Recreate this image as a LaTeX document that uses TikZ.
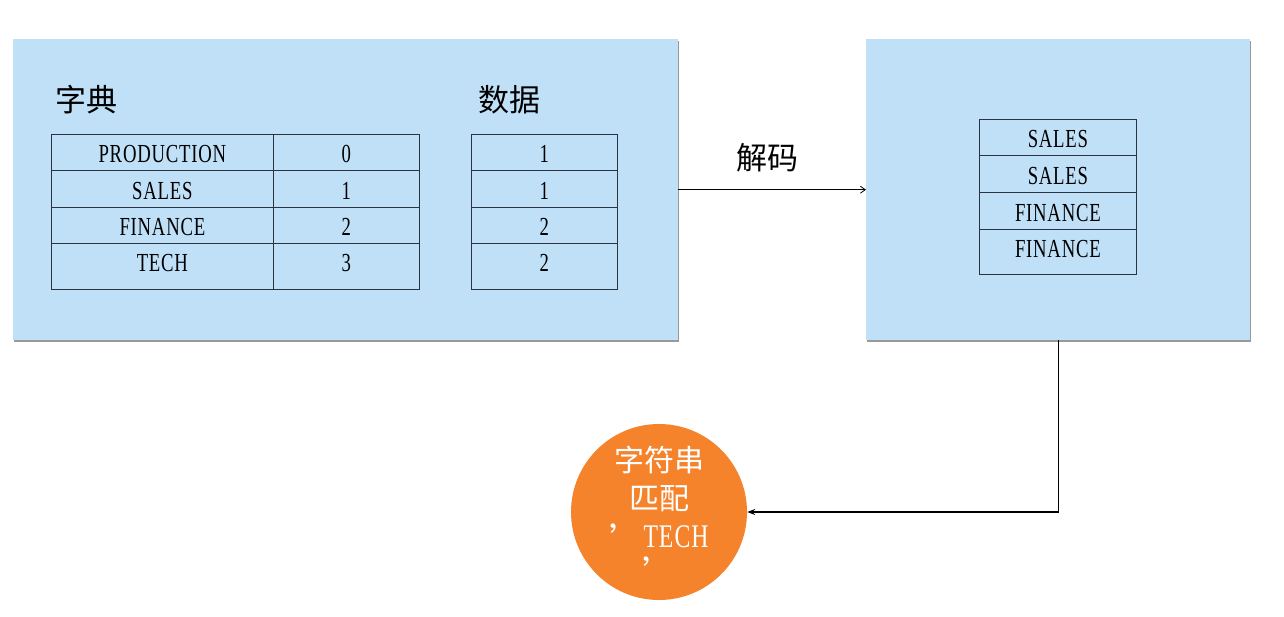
\documentclass[tikz,border=0pt]{standalone}
\usepackage{fontspec}
\setmainfont{Liberation Serif}
\newfontfamily\condfont[FakeStretch=0.72,LetterSpace=3]{Liberation Serif}
\newfontfamily\cjk{Noto Sans CJK SC}
\usetikzlibrary{arrows.meta,shadows}
\definecolor{panelblue}{HTML}{C0E0F8}
\definecolor{circorange}{HTML}{F5832C}
\definecolor{gridline}{HTML}{2A3440}
\begin{document}
\begin{tikzpicture}[x=1pt,y=-1pt,
  panel/.style={fill=panelblue, draw=none, inner sep=0pt, anchor=north west,
    drop shadow={shadow xshift=0.6pt, shadow yshift=-2pt, fill=gray!80, opacity=1}},
  cell/.style={draw=gridline, line width=0.8pt, inner sep=0pt, anchor=north west,
    text height=21pt, text depth=0pt,
    font=\condfont\fontsize{26}{26}\selectfont},
  lastrow/.style={text depth=10pt},
  title/.style={font=\cjk\fontsize{31}{31}\selectfont},
  conn/.style={line width=0.8pt}
]
\useasboundingbox (0,0) rectangle (1284,616);
% panels
\node[panel, minimum width=665pt, minimum height=301pt] (L) at (13,39) {};
\node[panel, minimum width=384pt, minimum height=301pt] (R) at (866,39) {};
% titles
\node[title] (dict) at (86,100) {字典};
\node[title] (data) at (509,100) {数据};
% dictionary table
\node[cell, minimum width=222pt, minimum height=36pt] (d1a) at (51,134) {PRODUCTION};
\node[cell, minimum width=146pt, minimum height=36pt] (d1b) at (273,134) {0};
\node[cell, minimum width=222pt, minimum height=37pt] (d2a) at (51,170) {SALES};
\node[cell, minimum width=146pt, minimum height=37pt] (d2b) at (273,170) {1};
\node[cell, minimum width=222pt, minimum height=36pt] (d3a) at (51,207) {FINANCE};
\node[cell, minimum width=146pt, minimum height=36pt] (d3b) at (273,207) {2};
\node[cell, lastrow, minimum width=222pt, minimum height=46pt] (d4a) at (51,243) {TECH};
\node[cell, lastrow, minimum width=146pt, minimum height=46pt] (d4b) at (273,243) {3};
% data table
\node[cell, minimum width=146pt, minimum height=36pt] (v1) at (471,134) {1};
\node[cell, minimum width=146pt, minimum height=37pt] (v2) at (471,170) {1};
\node[cell, minimum width=146pt, minimum height=36pt] (v3) at (471,207) {2};
\node[cell, lastrow, minimum width=146pt, minimum height=46pt] (v4) at (471,243) {2};
% decoded table
\node[cell, minimum width=157pt, minimum height=36pt] (r1) at (979,119) {SALES};
\node[cell, minimum width=157pt, minimum height=37pt] (r2) at (979,155) {SALES};
\node[cell, minimum width=157pt, minimum height=37pt] (r3) at (979,192) {FINANCE};
\node[cell, lastrow, minimum width=157pt, minimum height=45pt] (r4) at (979,229) {FINANCE};
% decode arrow
\draw[conn, -{Straight Barb[length=5pt,width=7pt]}] (L.east) -- (R.west);
\node[title] (decode) at (767,158) {解码};
% circle
\node[circle, fill=circorange, minimum size=176pt, inner sep=0pt] (C) at (659,512) {};
\node[align=center, text=white, font=\cjk\fontsize{30}{38}\selectfont] (Ctext) at (659,516)
  {字符串\\匹配\\{\fontsize{34}{38}\selectfont\raisebox{-5pt}{’}}{\condfont\fontsize{33}{38}\selectfont TECH}\\{\fontsize{34}{38}\selectfont ’}};
% connector
\draw[line width=1.4pt, -{Stealth[length=8pt,width=6pt]}] (R.south) |- (C.east);
\end{tikzpicture}
\end{document}
